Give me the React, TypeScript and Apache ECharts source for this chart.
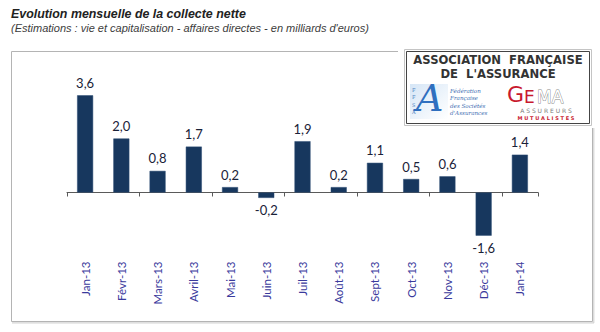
import React, { useEffect, useRef } from "react";
import * as echarts from "echarts";

const categories = ["Jan-13", "Févr-13", "Mars-13", "Avril-13", "Mai-13", "Juin-13", "Juil-13", "Août-13", "Sept-13", "Oct-13", "Nov-13", "Déc-13", "Jan-14"];
const values = [3.6, 2.0, 0.8, 1.7, 0.2, -0.2, 1.9, 0.2, 1.1, 0.5, 0.6, -1.6, 1.4];
const yRange = [-2, 4];

const titleText = "Evolution mensuelle de la collecte nette";
const subtitleText = "(Estimations : vie et capitalisation - affaires directes - en milliards d'euros)";

export default function App() {
  const ref = useRef<HTMLDivElement>(null);
  useEffect(() => {
    if (!ref.current) return;
    const chart = echarts.init(ref.current, null, { renderer: "svg" });
    const logoX = 404;
    const logoY = 49;
    const option: any = {
      animation: false,
      grid: { left: 67, right: 62, top: 84.5, bottom: 85.5, containLabel: false },
      xAxis: [
        {
          type: "category",
          data: categories,
          position: "bottom",
          axisLine: { show: true, onZero: true, lineStyle: { color: "#5a5a5a", width: 1 } },
          axisTick: { show: true, length: 4, alignWithLabel: false, lineStyle: { color: "#5a5a5a" } },
          axisLabel: { show: false },
          splitLine: { show: false },
        },
        {
          type: "category",
          data: categories,
          position: "bottom",
          axisLine: { show: false, onZero: false },
          axisTick: { show: false },
          axisLabel: {
            show: true,
            rotate: 90,
            margin: 15,
            color: "#3a3a9c",
            fontFamily: "Lato",
            fontSize: 11.5,
          },
          splitLine: { show: false },
        },
      ],
      yAxis: {
        type: "value",
        min: yRange[0],
        max: yRange[1],
        show: false,
        splitLine: { show: false },
      },
      series: [
        {
          type: "bar",
          xAxisIndex: 0,
          barWidth: 16,
          itemStyle: { color: "#17375e", borderColor: "#2a4a73", borderWidth: 0.5 },
          data: values.map((v) => ({
            value: v,
            label: { position: v < 0 ? "bottom" : "top" },
          })),
          label: {
            show: true,
            distance: 6,
            color: "#1a2238",
            fontFamily: "Lato",
            fontSize: 13,
            formatter: (p: any) => Number(p.value).toFixed(1).replace(".", ","),
          },
        },
      ],
      graphic: [
        {
          type: "text",
          left: 11,
          top: 8,
          style: { text: titleText, fontFamily: "Liberation Sans", fontSize: 12.4, fontWeight: "bold", fontStyle: "italic", fill: "#222" },
        },
        {
          type: "text",
          left: 11,
          top: 22,
          style: { text: subtitleText, fontFamily: "Liberation Sans", fontSize: 11, fontStyle: "italic", fill: "#3c3c3c" },
        },
        {
          type: "rect",
          z: 0,
          shape: { x: 11.5, y: 51.5, width: 581, height: 270 },
          style: { fill: "none", stroke: "#b4b4b4", lineWidth: 1 },
        },
        {
          type: "line",
          z: 0,
          shape: { x1: 12, y1: 322.8, x2: 594, y2: 322.8 },
          style: { stroke: "#d4d4d4", lineWidth: 1.2 },
        },
        {
          type: "line",
          z: 0,
          shape: { x1: 593.8, y1: 52, x2: 593.8, y2: 323 },
          style: { stroke: "#d4d4d4", lineWidth: 1.2 },
        },
        {
          type: "group",
          z: 10,
          children: [
            { type: "rect", shape: { x: 398, y: 44, width: 200, height: 84 }, style: { fill: "#fff" } },
            { type: "rect", shape: { x: logoX + 0.5, y: logoY + 0.5, width: 187, height: 76 }, style: { fill: "#fff", stroke: "#c4c4c4", lineWidth: 1 } },
            { type: "rect", shape: { x: logoX + 2.5, y: logoY + 2.5, width: 183, height: 72 }, style: { fill: "none", stroke: "#444", lineWidth: 1 } },
            {
              type: "text",
              x: logoX + 94,
              y: logoY + 4.5,
              style: {
                text: "ASSOCIATION  FRANÇAISE\nDE  L'ASSURANCE",
                align: "center",
                fontFamily: "DejaVu Sans",
                fontWeight: "bold",
                fontSize: 11.6,
                lineHeight: 13.5,
                fill: "#333",
              },
            },
            {
              type: "rect",
              shape: { x: logoX + 6, y: logoY + 35, width: 38, height: 35 },
              style: {
                fill: new echarts.graphic.LinearGradient(0, 0, 1, 1, [
                  { offset: 0, color: "#d6e6f6" },
                  { offset: 1, color: "#ffffff" },
                ]),
              },
            },
            {
              type: "text",
              x: logoX + 8,
              y: logoY + 37,
              style: { text: "F\nF\nS\nA", fontFamily: "DejaVu Serif", fontSize: 5, lineHeight: 7.5, fill: "#4a7fc0" },
            },
            {
              type: "text",
              x: logoX + 12,
              y: logoY + 30,
              style: { text: "A", fontFamily: "DejaVu Serif", fontStyle: "italic", fontSize: 38, fill: "#2f6fbf" },
            },
            {
              type: "text",
              x: logoX + 46,
              y: logoY + 38,
              style: {
                text: "Fédération\nFrançaise\ndes Sociétés\nd'Assurances",
                fontFamily: "DejaVu Serif",
                fontStyle: "italic",
                fontSize: 5.6,
                lineHeight: 7.5,
                fill: "#3b6cb0",
              },
            },
            {
              type: "text",
              x: logoX + 103,
              y: logoY + 34,
              style: { text: "G", fontFamily: "DejaVu Sans", fontSize: 22, fill: "#c8192e" },
            },
            {
              type: "text",
              x: logoX + 120,
              y: logoY + 39,
              style: { text: "E", fontFamily: "DejaVu Sans", fontSize: 17, fill: "#c8192e" },
            },
            {
              type: "text",
              x: logoX + 133,
              y: logoY + 39,
              style: { text: "MA", fontFamily: "DejaVu Sans", fontSize: 17, fill: "#ffffff", stroke: "#8a8a8a", lineWidth: 0.9 },
            },
            {
              type: "text",
              x: logoX + 142,
              y: logoY + 58,
              style: { text: "A S S U R E U R S", align: "center", fontFamily: "DejaVu Sans", fontSize: 6, fill: "#7a7a7a" },
            },
            {
              type: "text",
              x: logoX + 142,
              y: logoY + 66,
              style: { text: "M U T U A L I S T E S", align: "center", fontFamily: "DejaVu Sans", fontWeight: "bold", fontSize: 5, fill: "#c8192e" },
            },
          ],
        },
      ],
    };
    chart.setOption(option);
    return () => chart.dispose();
  }, []);
  return <div ref={ref} style={{ position: "fixed", left: 0, top: 0, width: 600, height: 332, background: "#fff" }} />;
}
